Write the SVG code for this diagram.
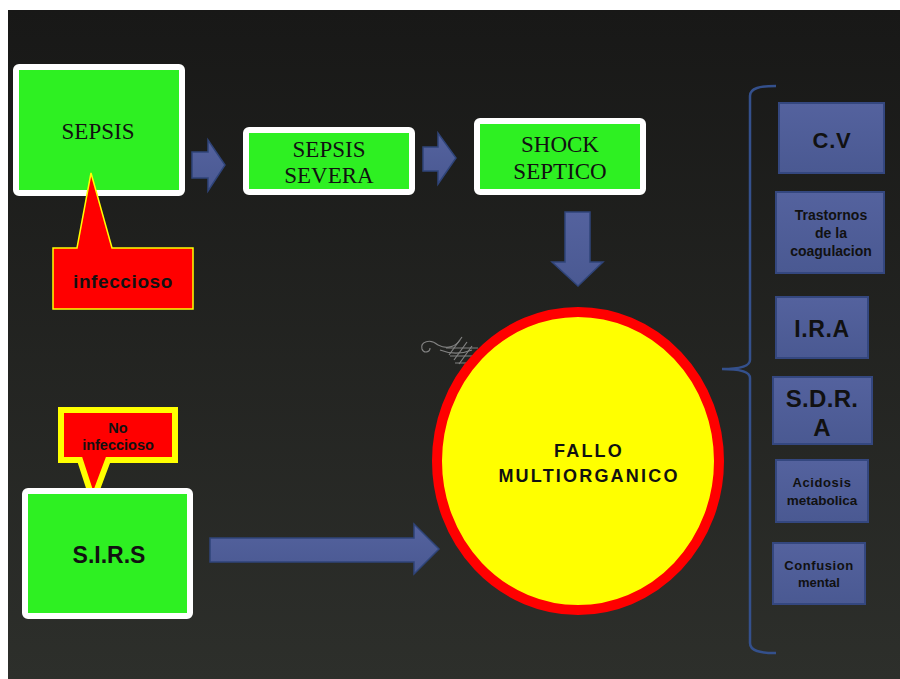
<svg xmlns="http://www.w3.org/2000/svg" width="900" height="679" viewBox="0 0 900 679">
<defs>
<linearGradient id="bg" x1="0" y1="0" x2="0" y2="1">
<stop offset="0" stop-color="#181817"/>
<stop offset="1" stop-color="#2d2f2b"/>
</linearGradient>
<linearGradient id="bl" x1="0" y1="0" x2="0" y2="1">
<stop offset="0" stop-color="#54629e"/>
<stop offset="1" stop-color="#4a5992"/>
</linearGradient>
<style>
.gbox{fill:#2ef022;stroke:#ffffff;stroke-width:6;stroke-linejoin:round}
.serif{font-family:"Liberation Serif","Times New Roman",serif;font-size:23px;fill:#111;text-anchor:middle}
.sans{font-family:"Liberation Sans",Arial,sans-serif;font-weight:bold;fill:#111;text-anchor:middle}
.arrow{fill:url(#bl);stroke:#2f4479;stroke-width:1.5;stroke-linejoin:miter}
.bbox{fill:url(#bl);stroke:#34477f;stroke-width:2}
.call{fill:#ff0000;stroke:#ffff00;stroke-linejoin:miter}
</style>
</defs>
<rect x="0" y="0" width="900" height="679" fill="#ffffff"/>
<rect x="8" y="10" width="892" height="669" fill="url(#bg)"/>

<g id="ornament" fill="none" stroke="#9a9a9a" stroke-width="1.2" opacity="0.8">
<path d="M438 345 C430 338 420 342 422 349 C424 354 430 352 430 348"/>
<path d="M438 345 C448 350 456 346 460 340"/>
<path d="M449 355 L462 337 M454 360 L467 342 M459 364 L472 346"/>
<path d="M446 348 L478 348 M450 356 L480 356 M455 363 L478 363"/>
<path d="M440 350 C450 354 462 354 472 350"/>
</g>

<g id="connectors">
<path class="arrow" d="M192 152 H208 V140 L225 165 L208 191 V178 H192 Z"/>
<path class="arrow" d="M423 147 H438 V133 L456 158 L438 184 V171 H423 Z"/>
<path class="arrow" d="M565 212 H590 V262 H603 L578 286 L552 262 H565 Z"/>
<path class="arrow" d="M210 538 H414 V524 L439 549 L414 574 V562 H210 Z"/>
<path d="M776 86 C760 86 750 88 750 96 V360 C750 366 740 369 722 369 C740 369 750 372 750 378 V643 C750 651 760 653 776 653" fill="none" stroke="#34508c" stroke-width="2.5"/>
</g>

<g id="sepsis">
<rect class="gbox" x="16" y="67" width="166" height="126" rx="3"/>
<text class="serif" x="98" y="139">SEPSIS</text>
</g>

<g id="infeccioso">
<path class="call" stroke-width="1.5" d="M53 248 H77 L91 173 L112 248 H193 V309 H53 Z"/>
<text class="sans" x="123" y="288" font-size="19" letter-spacing="0.6">infeccioso</text>
</g>

<g id="sepsis-severa">
<rect class="gbox" x="246" y="130" width="166" height="62" rx="3"/>
<text class="serif" x="329" y="157">SEPSIS</text>
<text class="serif" x="329" y="183">SEVERA</text>
</g>

<g id="shock-septico">
<rect class="gbox" x="477" y="121" width="166" height="71" rx="3"/>
<text class="serif" x="560" y="152">SHOCK</text>
<text class="serif" x="560" y="179">SEPTICO</text>
</g>

<g id="fallo">
<ellipse cx="578" cy="461" rx="141" ry="149" fill="#ffff00" stroke="#ff0000" stroke-width="10"/>
<text class="sans" x="589" y="457" font-size="18" letter-spacing="2.2">FALLO</text>
<text class="sans" x="589" y="482" font-size="18" letter-spacing="2.2">MULTIORGANICO</text>
</g>

<g id="no-infeccioso">
<path class="call" stroke-width="6" d="M61 410 H175 V460 H108 L93 500 L80 460 H61 Z"/>
<text class="sans" x="118" y="433" font-size="14.5">No</text>
<text class="sans" x="118" y="450" font-size="14.5">infeccioso</text>
</g>

<g id="sirs">
<rect class="gbox" x="25" y="491" width="165" height="125" rx="3"/>
<text class="sans" x="109" y="563" font-size="23">S.I.R.S</text>
</g>

<g id="cv">
<rect class="bbox" x="779" y="103" width="105" height="70"/>
<text class="sans" x="832" y="148" font-size="22" letter-spacing="0.8">C.V</text>
</g>

<g id="trastornos">
<rect class="bbox" x="776" y="192" width="108" height="81"/>
<text class="sans" x="831" y="220" font-size="14">Trastornos</text>
<text class="sans" x="831" y="238" font-size="14">de la</text>
<text class="sans" x="831" y="256" font-size="14">coagulacion</text>
</g>

<g id="ira">
<rect class="bbox" x="776" y="297" width="92" height="61"/>
<text class="sans" x="822" y="337" font-size="23" letter-spacing="0.6">I.R.A</text>
</g>

<g id="sdra">
<rect class="bbox" x="773" y="377" width="99" height="67"/>
<text class="sans" x="822" y="407" font-size="24" letter-spacing="0.3">S.D.R.</text>
<text class="sans" x="822" y="436" font-size="24">A</text>
</g>

<g id="acidosis">
<rect class="bbox" x="776" y="460" width="92" height="62"/>
<text class="sans" x="822" y="487" font-size="13" letter-spacing="0.6">Acidosis</text>
<text class="sans" x="822" y="505" font-size="13.5">metabolica</text>
</g>

<g id="confusion">
<rect class="bbox" x="773" y="543" width="92" height="61"/>
<text class="sans" x="819" y="570" font-size="13" letter-spacing="0.6">Confusion</text>
<text class="sans" x="819" y="587" font-size="13">mental</text>
</g>
</svg>
